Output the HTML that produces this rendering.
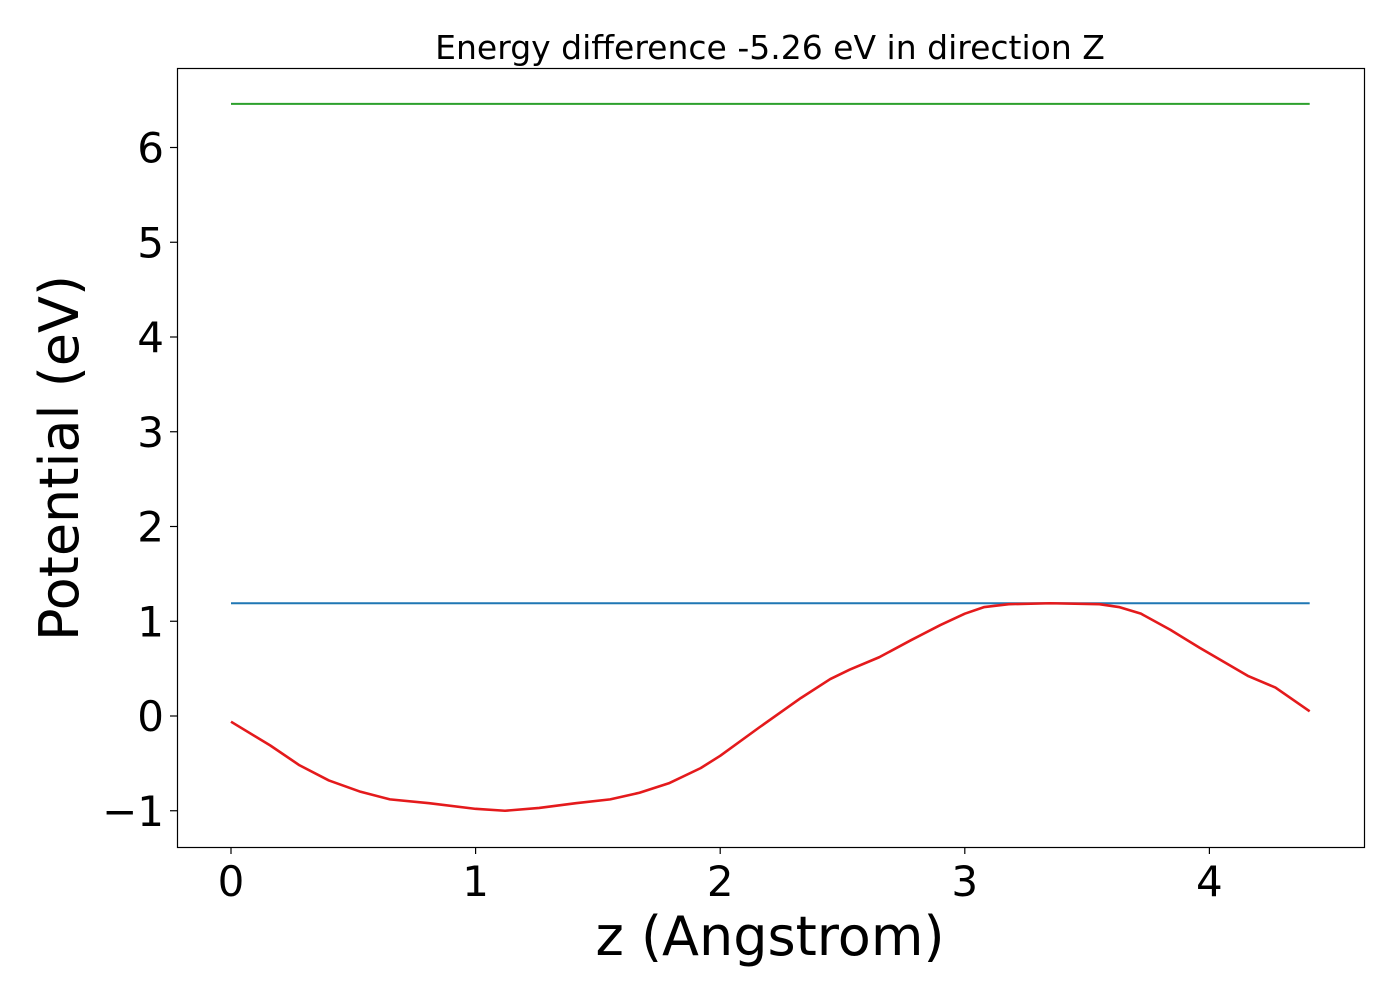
<!DOCTYPE html>
<html><head><meta charset="utf-8"><style>
html,body{margin:0;padding:0;background:#fff;width:1400px;height:1000px;overflow:hidden}
text{font-family:"DejaVu Sans","Liberation Sans",sans-serif}
</style></head><body>
<svg id="chart" width="1400" height="1000" xmlns="http://www.w3.org/2000/svg">
<text x="770" y="59" font-size="33" text-anchor="middle">Energy difference -5.26 eV in direction Z</text>
<g id="plot"></g>
<rect x="177.5" y="68.5" width="1187" height="779" fill="none" stroke="#000" stroke-width="1.2"/>
<text x="770" y="955" font-size="54" text-anchor="middle">z (Angstrom)</text>
<text transform="translate(78,458) rotate(-90)" font-size="54" text-anchor="middle">Potential (eV)</text>
</svg>
<script>
const zValues=[0,0.16,0.28,0.40,0.53,0.65,0.81,1.0,1.12,1.26,1.41,1.55,1.67,1.79,1.92,2.0,2.16,2.33,2.45,2.53,2.65,2.78,2.90,3.0,3.08,3.18,3.35,3.55,3.63,3.72,3.84,3.96,4.06,4.16,4.27,4.41];
const potential=[-0.06,-0.31,-0.52,-0.68,-0.80,-0.88,-0.92,-0.98,-1.0,-0.97,-0.92,-0.88,-0.81,-0.71,-0.55,-0.42,-0.12,0.19,0.39,0.49,0.62,0.80,0.96,1.08,1.15,1.18,1.19,1.18,1.15,1.08,0.91,0.72,0.57,0.42,0.30,0.05];
const greenLevel=6.46;
const blueLevel=1.19;
const xTicks=[0,1,2,3,4];
const yTicks=[-1,0,1,2,3,4,5,6];
const NS="http://www.w3.org/2000/svg";
const xs=v=>231+v*244.6;
const ys=v=>716-v*94.75;
const g=document.getElementById('plot');
function mk(t,a){const e=document.createElementNS(NS,t);for(const k in a)e.setAttribute(k,a[k]);g.appendChild(e);return e;}
xTicks.forEach(t=>{
 const l=mk('line',{x1:xs(t),x2:xs(t),y1:847,y2:854,stroke:'#000','stroke-width':1.2});
 
 
 const tx=mk('text',{x:xs(t),y:896,'font-size':42,'text-anchor':'middle'});
 tx.textContent=String(t);
 
 
});
yTicks.forEach(t=>{
 const l=mk('line',{x1:170,x2:177,y1:ys(t),y2:ys(t),stroke:'#000','stroke-width':1.2});
 
 
 const tx=mk('text',{x:164,y:ys(t)+15,'font-size':42,'text-anchor':'end'});
 tx.textContent=t<0?'\u2212'+Math.abs(t):String(t);
 
 
});
const x0=xs(zValues[0]),x1=xs(zValues[zValues.length-1]);
const gl=mk('line',{x1:x0,x2:x1,y1:ys(greenLevel),y2:ys(greenLevel),stroke:'#2ca02c','stroke-width':2});


const bl=mk('line',{x1:x0,x2:x1,y1:ys(blueLevel),y2:ys(blueLevel),stroke:'#1f77b4','stroke-width':2});


const p=mk('polyline',{points:zValues.map((z,i)=>xs(z)+','+ys(potential[i])).join(' '),fill:'none',stroke:'#e41a1c','stroke-width':2.6,'stroke-linejoin':'round'});


</script>
</body></html>
